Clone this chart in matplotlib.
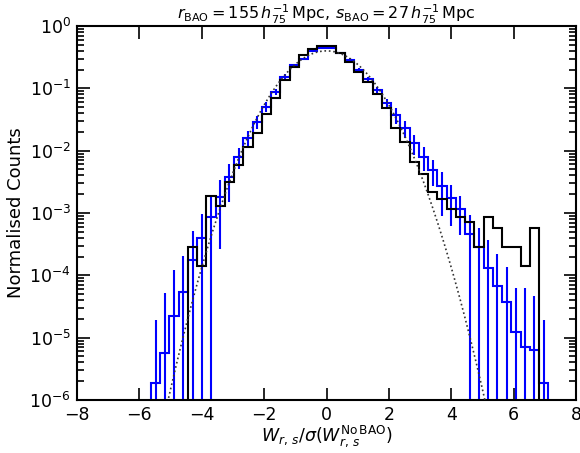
import numpy as np
import matplotlib
matplotlib.use("Agg")
import matplotlib.pyplot as plt
from matplotlib.ticker import LogLocator, FixedLocator, LogFormatterSciNotation, NullFormatter

# ---------------- data ----------------
bin_edges = np.linspace(-8, 8, 55)   # 54 bins of width 16/54

black_counts = [
    0, 0, 0, 0, 0, 0, 0, 0, 0, 0, 0, 0,
    2.9e-4, 1.43e-4, 1.9e-3, 1.31e-3, 3.2e-3, 5.9e-3, 0.0116, 0.0194,
    0.0383, 0.071, 0.136, 0.216, 0.343, 0.424, 0.483,
    0.483, 0.37, 0.268, 0.183, 0.128, 0.080, 0.048, 0.023, 0.0138,
    6.6e-3, 4.25e-3, 2.2e-3, 1.65e-3, 1.17e-3, 8.7e-4, 7.1e-4, 2.9e-4,
    8.7e-4, 5.7e-4, 2.9e-4, 2.9e-4, 1.43e-4, 5.7e-4,
    0, 0, 0, 0,
]

blue_counts = [
    0, 0, 0, 0, 0, 0, 0, 0,
    1.9e-6, 5.6e-6, 2.25e-5, 5.5e-5, 1.76e-4, 4.0e-4, 8.7e-4, 1.83e-3,
    3.8e-3, 8.0e-3, 0.016, 0.029, 0.051, 0.088, 0.154, 0.237, 0.30, 0.39, 0.44,
    0.44, 0.365, 0.29, 0.20, 0.14, 0.094, 0.0575, 0.0373, 0.023, 0.0131,
    8.0e-3, 4.9e-3, 2.71e-3, 1.72e-3, 1.15e-3, 4.6e-4, 2.9e-4, 1.3e-4,
    6.7e-5, 3.8e-5, 1.24e-5, 7.0e-6, 6.3e-6, 1.9e-6,
    0, 0, 0,
]

blue_errors = [
    0, 0, 0, 0, 0, 0, 0, 0,
    1.73e-5, 4.74e-5, 9.95e-5, 1.49e-4, 3.34e-4, 5.5e-4, 9.3e-4, 1.57e-3,
    2.3e-3, 3.0e-3, 5.0e-3, 7.0e-3, 9.0e-3, 0.010, 0.013, 0.012, 0.012, 0.012, 0.010,
    0.010, 0.010, 0.012, 0.012, 0.012, 0.011, 0.009, 0.011, 0.0068, 4.5e-3,
    3.3e-3, 2.2e-3, 1.8e-3, 1.1e-3, 7.0e-4, 4.7e-4, 2.9e-4, 2.4e-4,
    1.5e-4, 1.0e-4, 5.1e-5, 5.6e-5, 4.0e-5, 1.7e-5,
    0, 0, 0,
]

x_ticks = [-8, -6, -4, -2, 0, 2, 4, 6, 8]
y_ticks = [1e-6, 1e-5, 1e-4, 1e-3, 1e-2, 1e-1, 1e0]
title = (r"$r_{\rm BAO} = 155\,h_{75}^{-1}\,{\rm Mpc},\,"
         r"s_{\rm BAO} = 27\,h_{75}^{-1}\,{\rm Mpc}$")
xlabel = r"$W_{r,\,s}/\sigma(W_{r,\,s}^{\rm No\,BAO})$"
ylabel = "Normalised Counts"

# ---------------- plot ----------------
plt.rcParams["font.family"] = ["DejaVu Sans"]
plt.rcParams["mathtext.fontset"] = "dejavusans"

fig = plt.figure(figsize=(5.8, 4.53), dpi=100)
ax = fig.add_axes([77 / 580, 1 - 400 / 453, (576 - 77) / 580, (400 - 26) / 453])

edges = np.asarray(bin_edges)
centers = 0.5 * (edges[:-1] + edges[1:])
bc = np.asarray(blue_counts, float)
be = np.asarray(blue_errors, float)
kc = np.asarray(black_counts, float)

tiny = 1e-12
ax.stairs(np.where(bc > 0, bc, tiny), edges, baseline=tiny, color="#0000ff", lw=1.5, zorder=2)
m = bc > 0
lower = np.clip(bc[m] - be[m], tiny, None)
ax.errorbar(centers[m], bc[m], yerr=[bc[m] - lower, be[m]], fmt="none",
            ecolor="#0000ff", elinewidth=1.5, capsize=0, zorder=2)
ax.stairs(np.where(kc > 0, kc, tiny), edges, baseline=tiny, color="black", lw=1.5, zorder=3)

xg = np.linspace(-8, 8, 801)
ax.plot(xg, np.exp(-0.5 * xg ** 2) / np.sqrt(2 * np.pi), ls=":", color="#333333", lw=1.2, zorder=4)

ax.set_yscale("log")
ax.set_xlim(-8, 8)
ax.set_ylim(1e-6, 1)
ax.xaxis.set_major_locator(FixedLocator(x_ticks))
ax.yaxis.set_major_locator(FixedLocator(y_ticks))
ax.yaxis.set_major_formatter(LogFormatterSciNotation())
minor = [s * 10.0 ** e for e in range(-6, 0) for s in range(2, 10)]
ax.yaxis.set_minor_locator(FixedLocator(minor))
ax.yaxis.set_minor_formatter(NullFormatter())

ax.tick_params(which="both", direction="in", top=True, right=True, labelsize=12.5, width=1.2)
ax.tick_params(which="major", length=9, pad=4.5)
ax.tick_params(which="minor", length=5)
for s in ax.spines.values():
    s.set_linewidth(1.5)

ax.set_title(title, fontsize=11.5, pad=3)
ax.set_xlabel(xlabel, fontsize=12.5, labelpad=-1)
ax.set_ylabel(ylabel, fontsize=13, labelpad=3)

fig.savefig("out.png", dpi=100)
